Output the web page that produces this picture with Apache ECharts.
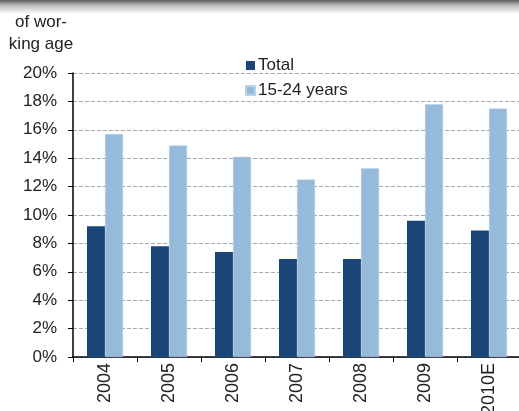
<!DOCTYPE html>
<html>
<head>
<meta charset="utf-8">
<script src="https://cdn.jsdelivr.net/npm/echarts@6/dist/echarts.min.js"></script>
<style>
  html, body { margin: 0; padding: 0; background: #fff; }
  #chart { width: 519px; height: 411px; }
</style>
</head>
<body>
<div id="chart"></div>
<script>
const years = ["2004", "2005", "2006", "2007", "2008", "2009", "2010E"];
const total = [9.2, 7.8, 7.4, 6.9, 6.9, 9.6, 8.9];
const youth = [15.7, 14.9, 14.1, 12.5, 13.3, 17.8, 17.5];

const chart = echarts.init(document.getElementById("chart"));
const FONT = "Liberation Sans";

chart.setOption({
  animation: false,
  textStyle: { fontFamily: FONT },
  graphic: [
    {
      type: "rect",
      shape: { x: 0, y: 0, width: 519, height: 14 },
      style: {
        fill: new echarts.graphic.LinearGradient(0, 0, 0, 1, [
          { offset: 0, color: "#5e5e5e" },
          { offset: 0.4, color: "#bdbdbd" },
          { offset: 1, color: "#ffffff" },
        ]),
      },
    },
    {
      type: "text",
      x: 41,
      y: 11,
      style: {
        text: "of wor-\nking age",
        font: "17px " + FONT,
        fill: "#222",
        lineHeight: 22,
        align: "center",
      },
    },
  ],
  legend: {
    orient: "vertical",
    left: 240,
    top: 52,
    itemWidth: 9,
    itemHeight: 9,
    itemGap: 8,
    icon: "rect",
    textStyle: { fontSize: 17, color: "#222", fontFamily: FONT, padding: [0, 0, 0, -2] },
    data: ["Total", "15-24 years"],
  },
  grid: {
    left: 73, top: 73, width: 448, height: 284,
    containLabel: false, outerBoundsMode: "none",
  },
  xAxis: {
    type: "category",
    data: years,
    axisLine: { lineStyle: { color: "#000", width: 1.5 } },
    axisTick: { show: true, length: 5, lineStyle: { color: "#000" } },
    axisLabel: { rotate: 90, fontSize: 18, color: "#222", margin: 6, fontFamily: FONT },
  },
  yAxis: {
    type: "value",
    min: 0,
    max: 20,
    interval: 2,
    axisLine: { show: true, lineStyle: { color: "#000", width: 1.5 } },
    axisTick: { show: true, length: 5, lineStyle: { color: "#000" } },
    axisLabel: { formatter: "{value}%", fontSize: 17, color: "#222", margin: 16, fontFamily: FONT },
    splitLine: { lineStyle: { color: "#a8a8a8", type: [4, 2] } },
  },
  series: [
    {
      name: "Total",
      type: "bar",
      data: total,
      barWidth: 18,
      barGap: "0%",
      itemStyle: { color: "#1c4577" },
    },
    {
      name: "15-24 years",
      type: "bar",
      data: youth,
      barWidth: 18,
      barGap: "0%",
      itemStyle: { color: "#96bada", borderColor: "#b8d2ea", borderWidth: 0.5 },
    },
  ],
});
</script>
</body>
</html>
